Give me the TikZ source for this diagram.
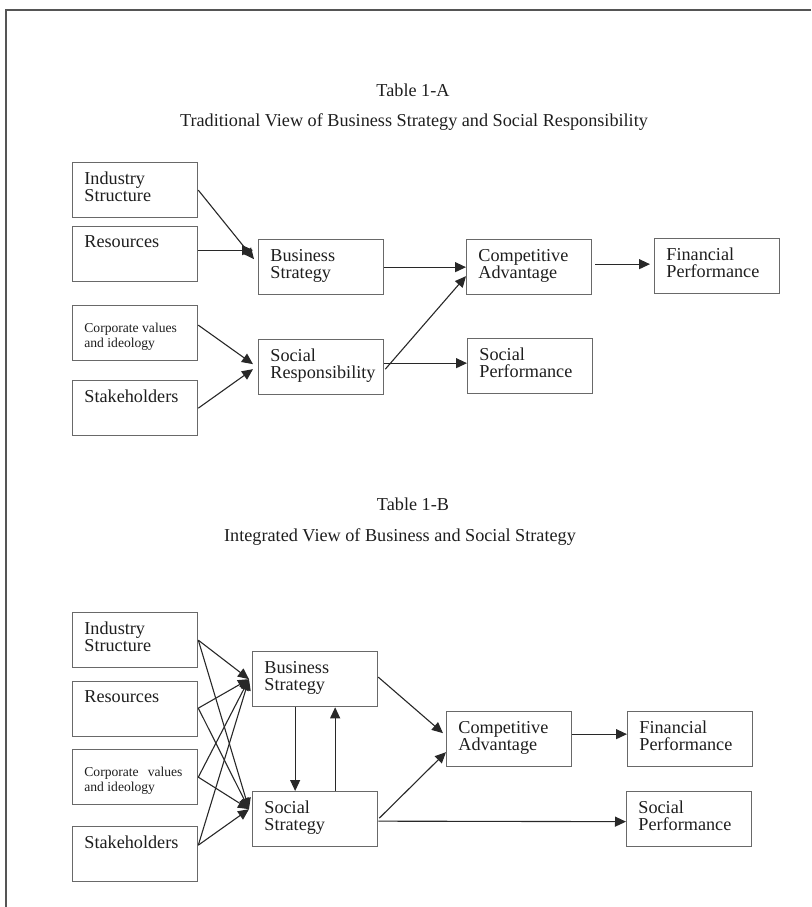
\documentclass[tikz,border=0pt]{standalone}
\usepackage{fontspec}
\setmainfont{Liberation Serif}
\usetikzlibrary{arrows.meta, calc, positioning}
\definecolor{FrameGray}{RGB}{85,85,85}
\definecolor{BoxGray}{RGB}{105,105,105}
\definecolor{LineGray}{RGB}{40,40,40}
\definecolor{TextDark}{RGB}{30,30,30}

\tikzset{
  box/.style={draw=BoxGray, line width=0.65pt, minimum width=62.5pt, minimum height=27.5pt, anchor=north west, inner sep=0pt},
  lbl/.style={anchor=north west, align=left, inner sep=0pt, text=TextDark, font=\fontsize{9.1}{8.6}\selectfont, xshift=6pt, yshift=-4.8pt},
  lblsmall/.style={lbl, font=\fontsize{6.8}{7.5}\selectfont, yshift=-4.2pt},
  ttl/.style={text=TextDark, font=\fontsize{9.1}{10}\selectfont, inner sep=0pt},
  arr/.style={-{Triangle[length=5.5pt,width=5pt]}, line width=0.55pt, draw=LineGray},
}

\begin{document}
\begin{tikzpicture}[x=0.5pt, y=-0.5pt]
\useasboundingbox (0,0) rectangle (811,907);
\draw[FrameGray, line width=1pt] (6,907) -- (6,10) -- (811,10);

% Table 1-A
\node[ttl] (t1) at (413,90) {Table 1-A};
\node[ttl] (s1) at (414,122) {Traditional View of Business Strategy and Social Responsibility};

\node[box, label={[lbl]north west:{Industry\\Structure}}] (is1) at (72,162) {};
\node[box, label={[lbl]north west:Resources}] (rs1) at (72,226) {};
\node[box, label={[lblsmall]north west:{Corporate values\\and ideology}}] (cv1) at (72,305) {};
\node[box, label={[lbl]north west:Stakeholders}] (sh1) at (72,380) {};
\node[box, label={[lbl]north west:{Business\\Strategy}}] (bs1) at (258,239) {};
\node[box, label={[lbl]north west:{Social\\Responsibility}}] (sr1) at (258,339) {};
\node[box, label={[lbl]north west:{Competitive\\Advantage}}] (ca1) at (466,239) {};
\node[box, label={[lbl]north west:{Financial\\Performance}}] (fp1) at (654,238) {};
\node[box, label={[lbl]north west:{Social\\Performance}}] (sp1) at (467,338) {};

\draw[arr] (is1.east) -- ($(bs1.west)+(-4,-8)$);
\draw[arr] ($(rs1.east)+(0,-4)$) -- ($(bs1.west)+(-5,-17)$);
\draw[arr] (bs1.east) -- (ca1.west);
\draw[arr] ($(sr1.east)+(1,2)$) -- ($(ca1.west)+(0,9)$);
\draw[arr] ($(sr1.east)+(0,-4)$) -- ($(sp1.west)+(0,-3)$);
\draw[arr] ($(ca1.east)+(3,-3)$) -- ($(fp1.west)+(-4,-2)$);
\draw[arr] ($(cv1.east)+(0,-8)$) -- ($(sr1.west)+(-5,-3)$);
\draw[arr] (sh1.east) -- ($(sr1.west)+(-5,2)$);

% Table 1-B
\node[ttl] (t2) at (413,504) {Table 1-B};
\node[ttl] (s2) at (400,537) {Integrated View of Business and Social Strategy};

\node[box, label={[lbl]north west:{Industry\\Structure}}] (is2) at (72,612) {};
\node[box, label={[lbl]north west:Resources}] (rs2) at (72,681) {};
\node[box, label={[lblsmall]north west:{Corporate\hspace{4.5pt}values\\and ideology}}] (cv2) at (72,749) {};
\node[box, label={[lbl]north west:Stakeholders}] (sh2) at (72,826) {};
\node[box, label={[lbl]north west:{Business\\Strategy}}] (bs2) at (252,651) {};
\node[box, label={[lbl]north west:{Social\\Strategy}}] (ss2) at (252,791) {};
\node[box, label={[lbl]north west:{Competitive\\Advantage}}] (ca2) at (446,711) {};
\node[box, label={[lbl]north west:{Financial\\Performance}}] (fp2) at (627,711) {};
\node[box, label={[lbl]north west:{Social\\Performance}}] (sp2) at (626,791) {};

\foreach \src/\dy in {is2/0, rs2/-1, cv2/0, sh2/-9} {
  \draw[arr] ($(\src.east)+(0,\dy)$) -- ($(bs2.west)+(-3,0)$);
  \draw[arr] ($(\src.east)+(0,\dy)$) -- ($(ss2.west)+(-3,-10)$);
}
\draw[arr] ($(bs2.south)+(-20,0)$) -- ($(ss2.north)+(-20,0)$);
\draw[arr] ($(ss2.north)+(20,0)$) -- ($(bs2.south)+(20,0)$);
\draw[arr] ($(bs2.east)+(0,-2)$) -- ($(ca2.west)+(-3,-6)$);
\draw[arr] ($(ss2.east)+(1,-1)$) -- ($(ca2.west)+(0,13)$);
\draw[arr] ($(ss2.east)+(0,2)$) -- ($(sp2.west)+(0,2.5)$);
\draw[arr] ($(ca2.east)+(0,-5)$) -- ($(fp2.west)+(0,-5)$);
\end{tikzpicture}
\end{document}
